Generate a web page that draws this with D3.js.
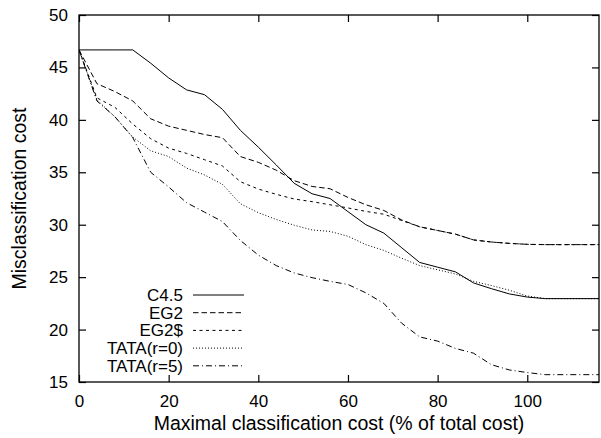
<!DOCTYPE html>
<html><head><meta charset="utf-8">
<script src="https://cdn.jsdelivr.net/npm/d3@7"></script>
<style>
html,body{margin:0;padding:0;background:#fff;}
svg{display:block;font-family:"Liberation Sans",Arial,Helvetica,sans-serif;}
</style></head>
<body>
<svg id="chart" width="601" height="438"></svg>
<script>
const xGrid = [0,4,8,12,16,20,24,28,32,36,40,44,48,52,56,60,64,68,72,76,80,84,88,92,96,100,104,116];
const c45   = [46.67,46.67,46.67,46.67,45.4,44.0,42.86,42.4,41.0,39.0,37.4,35.7,33.95,32.95,32.5,31.25,30.0,29.2,27.8,26.4,25.95,25.5,24.45,23.9,23.4,23.1,22.95,22.95];
const eg2   = [46.67,43.45,42.7,41.8,40.1,39.4,39.0,38.6,38.3,36.5,35.95,35.2,34.2,33.65,33.43,32.6,31.9,31.36,30.45,29.8,29.45,29.1,28.55,28.35,28.22,28.13,28.1,28.1];
const eg2s  = [46.67,42.1,41.2,39.6,38.2,37.3,36.8,36.2,35.6,34.1,33.4,32.9,32.45,32.2,31.9,31.6,31.27,31.0,30.4,29.8,29.45,29.1,28.55,28.35,28.22,28.13,28.1,28.1];
const tata0 = [46.67,41.9,40.3,38.35,37.05,36.5,35.4,34.75,33.85,32.0,31.15,30.5,29.95,29.5,29.36,28.9,28.1,27.55,26.8,26.1,25.7,25.3,24.6,24.2,23.75,23.2,22.95,22.95];
const tata5 = [46.67,41.8,40.3,38.3,35.0,33.6,32.1,31.2,30.3,28.5,27.1,26.1,25.4,24.95,24.6,24.3,23.5,22.5,20.6,19.3,18.9,18.2,17.75,16.65,16.15,15.9,15.7,15.7];
const seriesNames = ["C4.5","EG2","EG2$","TATA(r=0)","TATA(r=5)"];
const seriesVals = [c45, eg2, eg2s, tata0, tata5];
const seriesDash = [null, "5.5,3", "3,3.5", "1,2", "6,3,1,3"];
const xTicks = [0,20,40,60,80,100];
const yTicks = [15,20,25,30,35,40,45,50];

const L = 79, R = 599, T = 15, B = 382;
const svg = d3.select("#chart");
const x = d3.scaleLinear().domain([0,116]).range([L,R]);
const y = d3.scaleLinear().domain([15,50]).range([B,T]);

svg.append("clipPath").attr("id","clip").append("rect")
  .attr("x",L).attr("y",T).attr("width",R-L).attr("height",B-T);

const tickLen = 7;
const fs = 17;
const fsTitle = 19.5;
const gx = svg.append("g").attr("transform",`translate(0,${B})`)
  .call(d3.axisBottom(x).tickValues(xTicks).tickSizeInner(-tickLen).tickSizeOuter(0).tickPadding(13).tickFormat(d3.format("d")));
const gxt = svg.append("g").attr("transform",`translate(0,${T})`)
  .call(d3.axisTop(x).tickValues(xTicks).tickSizeInner(-tickLen).tickSizeOuter(0).tickFormat(""));
const gy = svg.append("g").attr("transform",`translate(${L},0)`)
  .call(d3.axisLeft(y).tickValues(yTicks).tickSizeInner(-tickLen).tickSizeOuter(0).tickPadding(11).tickFormat(d3.format("d")));
const gyr = svg.append("g").attr("transform",`translate(${R},0)`)
  .call(d3.axisRight(y).tickValues(yTicks).tickSizeInner(-tickLen).tickSizeOuter(0).tickFormat(""));
[gx,gxt,gy,gyr].forEach(g=>{
  g.select(".domain").remove();
  g.selectAll("line").attr("stroke","#000").attr("stroke-width",1.2);
  g.selectAll("text").attr("font-size",fs).attr("fill","#000").attr("font-family","Liberation Sans, Arial, sans-serif");
});

svg.append("rect").attr("x",L).attr("y",T).attr("width",R-L).attr("height",B-T)
  .attr("fill","none").attr("stroke","#000").attr("stroke-width",1.3);

const line = d3.line().x((d,i)=>x(xGrid[i])).y(d=>y(d));
const gl = svg.append("g").attr("clip-path","url(#clip)");
seriesVals.forEach((vals,k)=>{
  gl.append("path").datum(vals).attr("d",line)
    .attr("fill","none").attr("stroke","#000").attr("stroke-width",1)
    .attr("stroke-dasharray",seriesDash[k]);
});

const lg = svg.append("g");
seriesNames.forEach((n,k)=>{
  const cy = 295 + k*17.7;
  lg.append("text").attr("x",183).attr("y",cy+6).attr("text-anchor","end")
    .attr("font-size",fs).attr("fill","#000").text(n);
  lg.append("line").attr("x1",193).attr("x2",244).attr("y1",cy).attr("y2",cy)
    .attr("stroke","#000").attr("stroke-width",1).attr("stroke-dasharray",seriesDash[k]);
});

svg.append("text").attr("x",(L+R)/2).attr("y",430).attr("text-anchor","middle")
  .attr("font-size",fsTitle).attr("fill","#000").text("Maximal classification cost (% of total cost)");
svg.append("text").attr("transform",`translate(26,${(T+B)/2}) rotate(-90)`).attr("text-anchor","middle")
  .attr("font-size",fsTitle).attr("fill","#000").text("Misclassification cost");
</script>
</body></html>
